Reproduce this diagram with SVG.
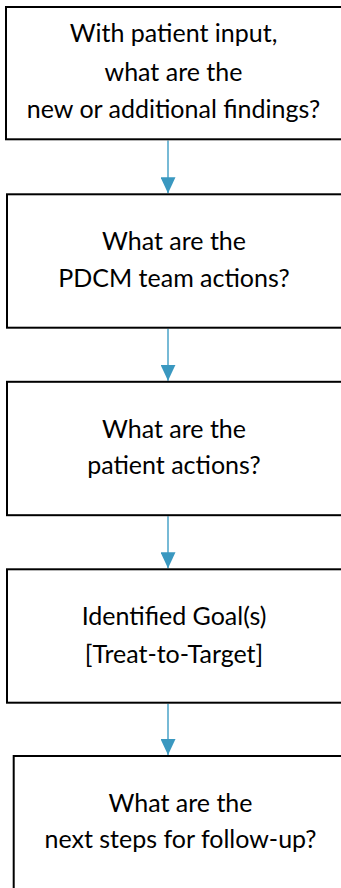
<svg xmlns="http://www.w3.org/2000/svg" width="341" height="888" viewBox="0 0 341 888">
<style>
.box{fill:#ffffff;stroke:#000000;stroke-width:2}
.t{font-family:Lato,"Open Sans","Liberation Sans",sans-serif;font-size:25px;fill:#000000;text-anchor:middle}
.c{stroke:#4aa3c8;stroke-width:1.5;fill:none}
</style>
<defs>
<marker id="ah" markerUnits="userSpaceOnUse" markerWidth="16" markerHeight="15" refX="16" refY="7.5" orient="auto" viewBox="0 0 16 15">
<path d="M0,0 L16,7.5 L0,15 Z" fill="#3a98c0"/>
</marker>
</defs>
<rect width="341" height="888" fill="#ffffff"/>
<g id="connectors">
<line class="c" x1="168" y1="140.5" x2="168" y2="193.3" marker-end="url(#ah)"/>
<line class="c" x1="168" y1="328.7" x2="168" y2="380.8" marker-end="url(#ah)"/>
<line class="c" x1="168" y1="516.2" x2="168" y2="568.3" marker-end="url(#ah)"/>
<line class="c" x1="168" y1="703.7" x2="168" y2="755" marker-end="url(#ah)"/>
</g>
<g id="node1">
<rect class="box" x="6" y="7" width="340" height="132.3"/>
<text class="t" x="173.5" y="42">With patient input,</text>
<text class="t" x="173.5" y="80.5">what are the</text>
<text class="t" x="173.5" y="118.3">new or additional findings?</text>
</g>
<g id="node2">
<rect class="box" x="7" y="194.3" width="340" height="133.4"/>
<text class="t" x="174" y="250">What are the</text>
<text class="t" x="174" y="286.7">PDCM team actions?</text>
</g>
<g id="node3">
<rect class="box" x="7" y="381.8" width="340" height="133.4"/>
<text class="t" x="174" y="437.5">What are the</text>
<text class="t" x="174" y="474.2">patient actions?</text>
</g>
<g id="node4">
<rect class="box" x="7" y="569.3" width="340" height="133.4"/>
<text class="t" x="174" y="625">Identified Goal(s)</text>
<text class="t" x="174" y="662.5">[Treat-to-Target]</text>
</g>
<g id="node5">
<rect class="box" x="13.7" y="756" width="340" height="140"/>
<text class="t" x="180.5" y="811.7">What are the</text>
<text class="t" x="180.5" y="848.3">next steps for follow-up?</text>
</g>
</svg>
